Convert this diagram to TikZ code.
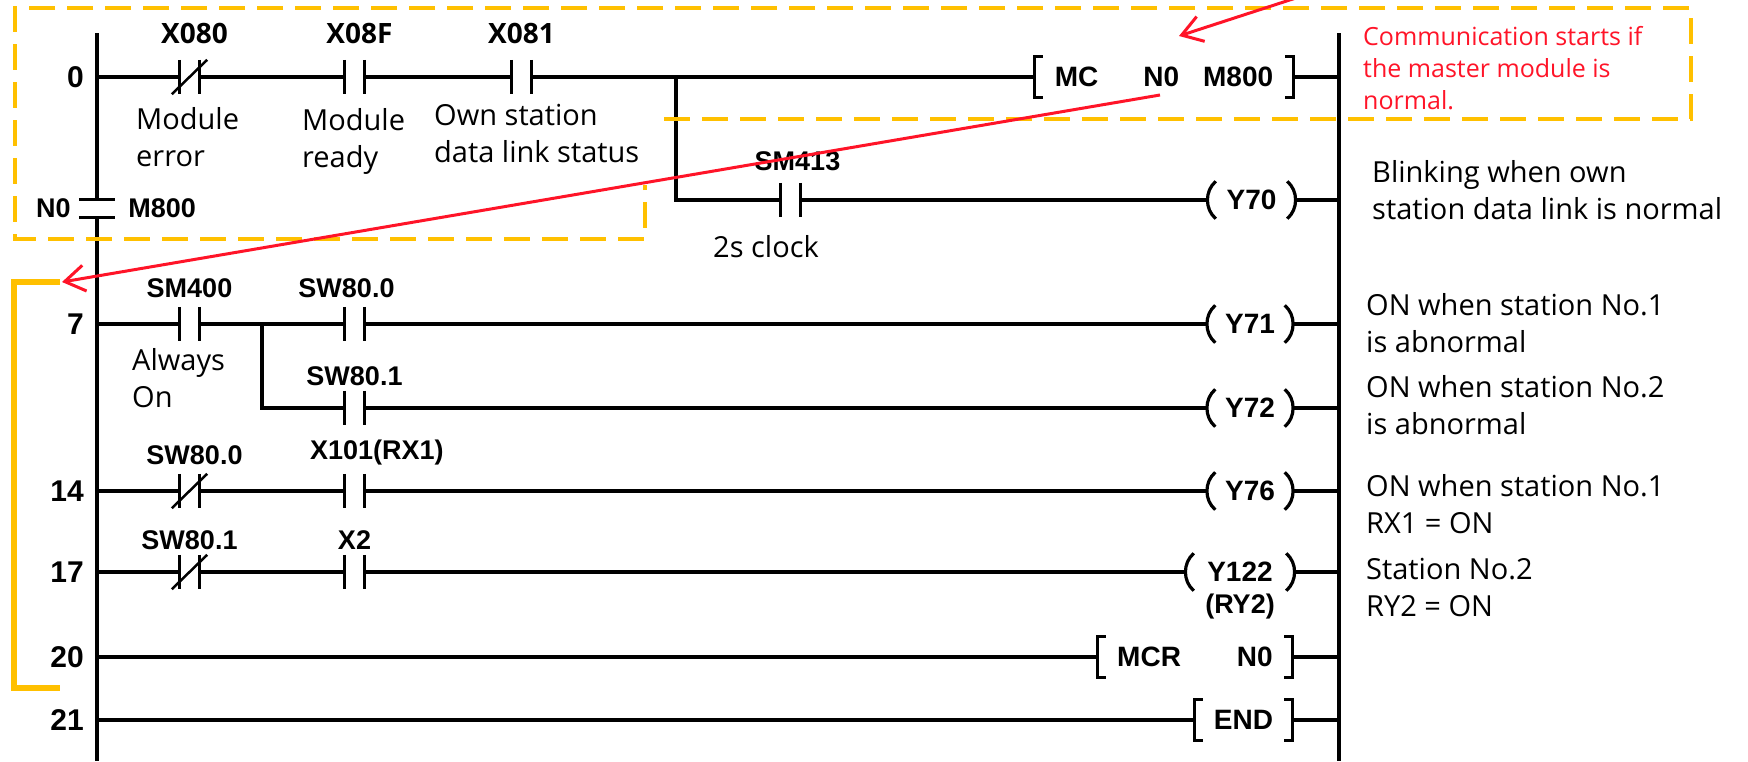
\documentclass[tikz,border=0pt]{standalone}
\usepackage{fontspec}
\setmainfont{Open Sans}
\newfontfamily\ladfont{Liberation Sans}
\usetikzlibrary{positioning,arrows.meta}

\definecolor{hiorange}{RGB}{255,192,0}
\definecolor{notered}{RGB}{255,20,40}

\tikzset{
  wire/.style={line width=3.2pt},
  contact/.style={minimum width=19pt, minimum height=34pt, inner sep=0pt},
  coil/.style={minimum height=37pt, inner sep=0pt, font=\ladfont\bfseries\fontsize{28}{34}\selectfont},
  instr/.style={minimum height=40pt, inner sep=0pt, font=\ladfont\bfseries\fontsize{28}{34}\selectfont},
  tag/.style={font=\ladfont\bfseries\fontsize{27}{34}\selectfont, inner sep=0pt},
  head/.style={font=\bfseries\fontsize{28}{34}\selectfont, inner sep=0pt},
  num/.style={font=\ladfont\bfseries\fontsize{30}{34}\selectfont, inner sep=0pt, anchor=east},
  note/.style={font=\fontsize{29}{37}\selectfont, align=left, anchor=west, inner sep=0pt},
  rednote/.style={note, font=\fontsize{25}{32}\selectfont, text=notered},
  frame/.style={hiorange, line width=3.5pt, dash pattern=on 26pt off 12pt},
  pointer/.style={notered, line width=3pt, -{Straight Barb[length=20pt,width=26pt]}},
}

\begin{document}
\begin{tikzpicture}[x=1pt, y=-1pt]
  \useasboundingbox (0,0) rectangle (1748,761);

  % rails
  \coordinate (lt) at (97,33);
  \coordinate (lb) at (97,761);
  \coordinate (rt) at (1339,33);
  \coordinate (rb) at (1339,761);
  \node[minimum width=36pt, minimum height=17pt, inner sep=0pt] (n0c) at (97,208.5) {};
  \draw[wire] (lt) -- (n0c.north) (n0c.south) -- (lb);
  \draw[wire] (n0c.north west) -- (n0c.north east) (n0c.south west) -- (n0c.south east);
  \draw[wire] (rt) -- (rb);
  \node[tag, left=8pt of n0c] (ln0) {N0};
  \node[tag, right=13pt of n0c] (lm800) {M800};

  % step numbers
  \node[num] (r0) at (84,77) {0};
  \node[num] (r7) at (84,324) {7};
  \node[num] (r14) at (84,491) {14};
  \node[num] (r17) at (84,572) {17};
  \node[num] (r20) at (84,657) {20};
  \node[num] (r21) at (84,720) {21};

  % contacts
  \node[contact] (x080) at (189.5,77) {};
  \node[contact] (x08f) at (354.5,77) {};
  \node[contact] (x081) at (521.5,77) {};
  \node[contact] (sm413) at (790.5,200) {};
  \node[contact] (sm400) at (189.5,324) {};
  \node[contact] (sw800a) at (354.5,324) {};
  \node[contact] (sw801a) at (354.5,408) {};
  \node[contact] (sw800b) at (189.5,491) {};
  \node[contact] (x101) at (354.5,491) {};
  \node[contact] (sw801b) at (189.5,572) {};
  \node[contact] (x2) at (354.5,572) {};
  \foreach \c in {x080,x08f,x081,sm413,sm400,sw800a,sw801a,sw800b,x101,sw801b,x2}
    \draw[wire] (\c.north west) -- (\c.south west) (\c.north east) -- (\c.south east);
  \foreach \c in {x080,sw800b,sw801b}
    \draw[line width=2.5pt] ([xshift=-8pt]\c.south west) -- ([xshift=8pt]\c.north east);

  % outputs
  \node[instr, minimum width=258pt] (mc) at (1164,77) {MC\hspace{45pt}N0\hspace{24pt}M800};
  \node[coil, minimum width=87pt] (y70) at (1251.5,200) {Y70};
  \node[coil, minimum width=85pt] (y71) at (1250,324) {Y71};
  \node[coil, minimum width=85pt] (y72) at (1250,408) {Y72};
  \node[coil, minimum width=85pt] (y76) at (1250,491) {Y76};
  \node[coil, minimum width=108pt] (y122) at (1240,572) {Y122};
  \node[tag, below=3pt of y122] (ry2) {(RY2)};
  \node[instr, minimum width=194pt] (mcr) at (1195,657) {MCR\hspace{56pt}N0};
  \node[instr, minimum width=97pt] (endins) at (1243.5,720) {END};
  \foreach \c in {y70,y71,y72,y76,y122}
    \draw[wire] ([xshift=8pt]\c.north west) to[bend right=50] ([xshift=8pt]\c.south west)
                ([xshift=-8pt]\c.north east) to[bend left=50] ([xshift=-8pt]\c.south east);
  \foreach \b in {mc,mcr,endins}
    \draw[wire] ([xshift=8pt]\b.north west) -- (\b.north west) -- (\b.south west) -- ([xshift=8pt]\b.south west)
                ([xshift=-8pt]\b.north east) -- (\b.north east) -- (\b.south east) -- ([xshift=-8pt]\b.south east);

  % rungs
  \coordinate (b0) at (676,77);
  \coordinate (b7) at (262,324);
  \draw[wire] (lt |- x080) -- (x080.west) (x080.east) -- (x08f.west) (x08f.east) -- (x081.west)
              (x081.east) -- (mc.west) (mc.east) -- (rt |- mc);
  \draw[wire] (b0) |- (sm413.west) (sm413.east) -- (y70.west) (y70.east) -- (rt |- y70);
  \draw[wire] (lt |- sm400) -- (sm400.west) (sm400.east) -- (sw800a.west) (sw800a.east) -- (y71.west)
              (y71.east) -- (rt |- y71);
  \draw[wire] (b7) |- (sw801a.west) (sw801a.east) -- (y72.west) (y72.east) -- (rt |- y72);
  \draw[wire] (lt |- sw800b) -- (sw800b.west) (sw800b.east) -- (x101.west) (x101.east) -- (y76.west)
              (y76.east) -- (rt |- y76);
  \draw[wire] (lt |- sw801b) -- (sw801b.west) (sw801b.east) -- (x2.west) (x2.east) -- (y122.west)
              (y122.east) -- (rt |- y122);
  \draw[wire] (lt |- mcr) -- (mcr.west) (mcr.east) -- (rt |- mcr);
  \draw[wire] (lt |- endins) -- (endins.west) (endins.east) -- (rt |- endins);

  % device labels
  \node[head, above=16pt of x080, xshift=5pt] (lx080) {X080};
  \node[head, above=16pt of x08f, xshift=5pt] (lx08f) {X08F};
  \node[head, above=16pt of x081] (lx081) {X081};
  \node[tag, above=12pt of sm413, xshift=7pt] (lsm413) {SM413};
  \node[tag, above=9pt of sm400] (lsm400) {SM400};
  \node[tag, above=9pt of sw800a, xshift=-8pt] (lsw800a) {SW80.0};
  \node[tag, above=5pt of sw801a] (lsw801a) {SW80.1};
  \node[tag, above=9pt of sw800b, xshift=5pt] (lsw800b) {SW80.0};
  \node[tag, above=9pt of x101.north west, anchor=south west, xshift=-35pt] (lx101) {X101(RX1)};
  \node[tag, above=5pt of sw801b] (lsw801b) {SW80.1};
  \node[tag, above=5pt of x2] (lx2) {X2};

  % comments
  \node[note] (dx080) at (136,137.5) {Module\\error};
  \node[note] (dx08f) at (302,141) {Module\\ready};
  \node[note] (dx081) at (434,133.5) {Own station\\data link status};
  \node[note] (dsm413) at (713,247) {2s clock};
  \node[note] (dsm400) at (132,378.5) {Always\\On};
  \node[rednote] (nmc) at (1363,68.5) {Communication starts if\\the master module is\\normal.};
  \node[note] (ny70) at (1372,190) {Blinking when own\\station data link is normal};
  \node[note] (ny71) at (1366,323.5) {ON when station No.1\\is abnormal};
  \node[note] (ny72) at (1366,405.5) {ON when station No.2\\is abnormal};
  \node[note] (ny76) at (1366,504) {ON when station No.1\\RX1 = ON};
  \node[note] (ny122) at (1366,587.5) {Station No.2\\RY2 = ON};

  % highlight
  \draw[frame] (664,119) -- (1691,119) -- (1691,8) -- (15,8) -- (15,239) -- (645,239) -- (645,185);
  \coordinate (brtop) at (60,282);
  \coordinate (brbot) at (60,688);
  \draw[hiorange, line width=6pt] (brtop) -- (14,282) -- (14,688) -- (brbot);
  \coordinate (mcfrom) at (1160,95);
  \coordinate (outtop) at (1302,-4);
  \coordinate (mctip) at (1179,36);
  \draw[pointer] (mcfrom) -- ([xshift=2pt]brtop);
  \draw[pointer] (outtop) -- (mctip);
\end{tikzpicture}
\end{document}
